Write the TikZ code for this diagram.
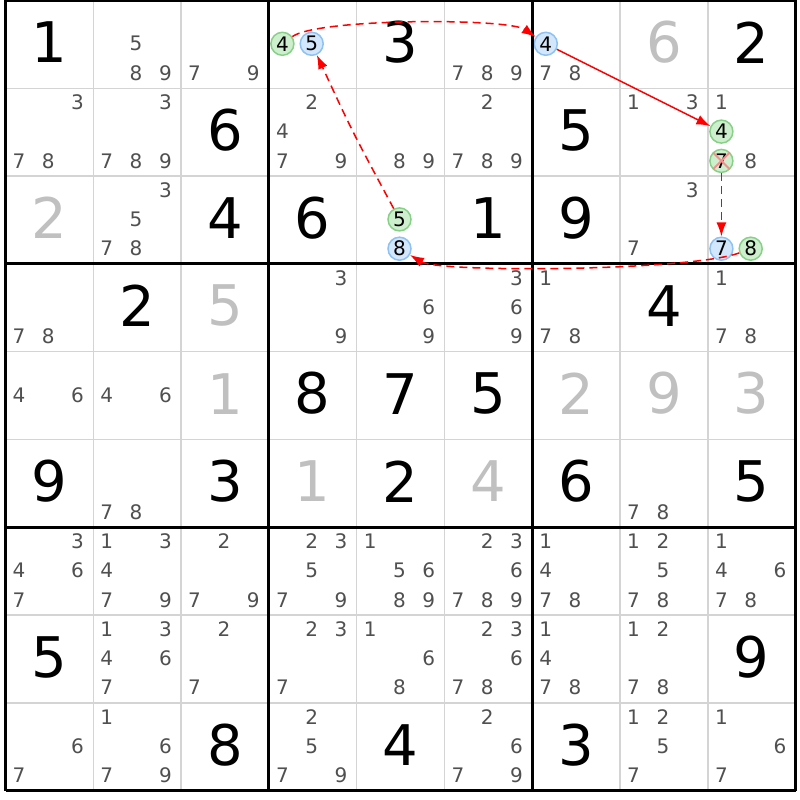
\documentclass[tikz,border=0pt]{standalone}
\usepackage{fontspec}
\setmainfont{DejaVu Sans}
\usetikzlibrary{arrows.meta}
\definecolor{candc}{HTML}{505050}
\definecolor{givgray}{HTML}{C0C0C0}
\definecolor{thinc}{HTML}{D4D4D4}
\definecolor{gfill}{HTML}{CDEFCD}
\definecolor{gdraw}{HTML}{88D088}
\definecolor{bfill}{HTML}{D2E7FB}
\definecolor{bdraw}{HTML}{8EC2F2}
\definecolor{xred}{HTML}{F29090}
\tikzset{
  cand/.style={text=candc, font=\fontsize{20}{20}\selectfont, inner sep=0pt},
  bigd/.style={font=\fontsize{56}{56}\selectfont, inner sep=0pt},
  giv/.style={bigd, text=black},
  solv/.style={bigd, text=givgray},
  circd/.style={circle, line width=1.5pt, minimum size=23pt, inner sep=0pt, font=\fontsize{20}{20}\selectfont, text=black},
  gcirc/.style={circd, draw=gdraw, fill=gfill},
  bcirc/.style={circd, draw=bdraw, fill=bfill},
  link/.style={draw=red, line width=1.5pt, -{Latex[length=14pt,width=10pt]}},
  weak/.style={link, dash pattern=on 8pt off 5pt},
  thinline/.style={draw=thinc, line width=1.5pt},
  boxline/.style={draw=black, line width=3pt},
}
\newcommand\cands[3]{%
  \foreach \d in {#3}{%
    \pgfmathsetmacro\px{5.5+(#2-1)*87.8+13.5+29.3*mod(\d-1,3)}%
    \pgfmathsetmacro\py{0.5+(#1-1)*87.8+14+29.3*floor((\d-1)/3)}%
    \node[cand] (k#1#2\d) at (\px,\py) {\d};
  }}
\newcommand\val[4]{%
  \pgfmathsetmacro\px{5.5+(#2-0.5)*87.8}%
  \pgfmathsetmacro\py{0.5+(#1-0.5)*87.8-2}%
  \node[#4] (v#1#2) at (\px,\py) {#3};}
\newcommand\ccand[5]{%
  \pgfmathsetmacro\px{5.5+(#3-1)*87.8+13.5+29.3*mod(#4-1,3)}%
  \pgfmathsetmacro\py{0.5+(#2-1)*87.8+14+29.3*floor((#4-1)/3)}%
  \node[#5] (#1) at (\px,\py) {#4};}
\begin{document}
\begin{tikzpicture}[x=1pt,y=-1pt]
\useasboundingbox[fill=white] (0,0) rectangle (800,800);
% thin grid lines
\foreach \i in {1,2,4,5,7,8}{
  \draw[thinline] ({5.5+\i*87.8},0.5) -- ({5.5+\i*87.8},790.7);
  \draw[thinline] (5.5,{0.5+\i*87.8}) -- (795.7,{0.5+\i*87.8});
}
% row 1
\val{1}{1}{1}{giv}
\cands{1}{2}{5,8,9}
\cands{1}{3}{7,9}
\ccand{g4}{1}{4}{4}{gcirc}
\ccand{b5}{1}{4}{5}{bcirc}
\val{1}{5}{3}{giv}
\cands{1}{6}{7,8,9}
\ccand{b4a}{1}{7}{4}{bcirc}
\cands{1}{7}{7,8}
\val{1}{8}{6}{solv}
\val{1}{9}{2}{giv}
% row 2
\cands{2}{1}{3,7,8}
\cands{2}{2}{3,7,8,9}
\val{2}{3}{6}{giv}
\cands{2}{4}{2,4,7,9}
\cands{2}{5}{8,9}
\cands{2}{6}{2,7,8,9}
\val{2}{7}{5}{giv}
\cands{2}{8}{1,3}
\cands{2}{9}{1,8}
\ccand{g4b}{2}{9}{4}{gcirc}
\ccand{g7}{2}{9}{7}{gcirc}
% row 3
\val{3}{1}{2}{solv}
\cands{3}{2}{3,5,7,8}
\val{3}{3}{4}{giv}
\val{3}{4}{6}{giv}
\ccand{g5}{3}{5}{5}{gcirc}
\ccand{b8}{3}{5}{8}{bcirc}
\val{3}{6}{1}{giv}
\val{3}{7}{9}{giv}
\cands{3}{8}{3,7}
\ccand{b7}{3}{9}{7}{bcirc}
\ccand{g8}{3}{9}{8}{gcirc}
% row 4
\cands{4}{1}{7,8}
\val{4}{2}{2}{giv}
\val{4}{3}{5}{solv}
\cands{4}{4}{3,9}
\cands{4}{5}{6,9}
\cands{4}{6}{3,6,9}
\cands{4}{7}{1,7,8}
\val{4}{8}{4}{giv}
\cands{4}{9}{1,7,8}
% row 5
\cands{5}{1}{4,6}
\cands{5}{2}{4,6}
\val{5}{3}{1}{solv}
\val{5}{4}{8}{giv}
\val{5}{5}{7}{giv}
\val{5}{6}{5}{giv}
\val{5}{7}{2}{solv}
\val{5}{8}{9}{solv}
\val{5}{9}{3}{solv}
% row 6
\val{6}{1}{9}{giv}
\cands{6}{2}{7,8}
\val{6}{3}{3}{giv}
\val{6}{4}{1}{solv}
\val{6}{5}{2}{giv}
\val{6}{6}{4}{solv}
\val{6}{7}{6}{giv}
\cands{6}{8}{7,8}
\val{6}{9}{5}{giv}
% row 7
\cands{7}{1}{3,4,6,7}
\cands{7}{2}{1,3,4,7,9}
\cands{7}{3}{2,7,9}
\cands{7}{4}{2,3,5,7,9}
\cands{7}{5}{1,5,6,8,9}
\cands{7}{6}{2,3,6,7,8,9}
\cands{7}{7}{1,4,7,8}
\cands{7}{8}{1,2,5,7,8}
\cands{7}{9}{1,4,6,7,8}
% row 8
\val{8}{1}{5}{giv}
\cands{8}{2}{1,3,4,6,7}
\cands{8}{3}{2,7}
\cands{8}{4}{2,3,7}
\cands{8}{5}{1,6,8}
\cands{8}{6}{2,3,6,7,8}
\cands{8}{7}{1,4,7,8}
\cands{8}{8}{1,2,7,8}
\val{8}{9}{9}{giv}
% row 9
\cands{9}{1}{6,7}
\cands{9}{2}{1,6,7,9}
\val{9}{3}{8}{giv}
\cands{9}{4}{2,5,7,9}
\val{9}{5}{4}{giv}
\cands{9}{6}{2,6,7,9}
\val{9}{7}{3}{giv}
\cands{9}{8}{1,2,5,7}
\cands{9}{9}{1,6,7}
% thick box lines
\foreach \i in {0,3,6,9}{
  \draw[boxline] ({5.5+\i*87.8},0.5) -- ({5.5+\i*87.8},790.7);
  \draw[boxline] (5.5,{0.5+\i*87.8}) -- (795.7,{0.5+\i*87.8});
}
% elimination cross
\draw[xred, line width=2pt] ([shift={(-8,-8)}]g7.center) -- ([shift={(8,8)}]g7.center)
  ([shift={(-8,8)}]g7.center) -- ([shift={(8,-8)}]g7.center);
% chain
\draw[weak] (g4) .. controls (318,18) and (508,18) .. (b4a);
\draw[link] (b4a) -- (g4b);
\draw[weak] (g7) -- (b7);
\draw[weak] (g8) .. controls (690,271) and (440,273) .. (b8);
\draw[weak] (g5) .. controls (352,131) .. (b5);
\end{tikzpicture}
\end{document}
